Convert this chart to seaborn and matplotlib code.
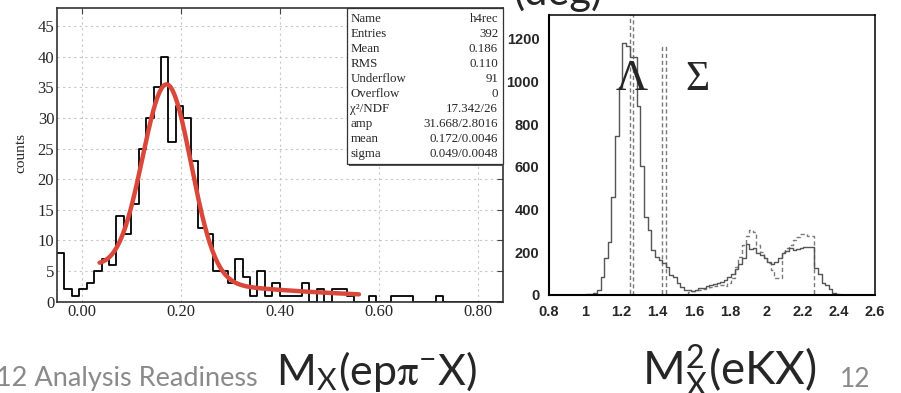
import numpy as np
import pandas as pd
import matplotlib
matplotlib.use("Agg")
import matplotlib.pyplot as plt
import seaborn as sns
from matplotlib.ticker import MultipleLocator
from matplotlib.patches import Rectangle

# ---------------- M_X(e p pi- X) : reconstructed missing mass ----------------
mx_bin_start = -0.05
mx_bin_width = 0.015
mx_counts = [8, 2, 1, 2, 3, 5, 7, 6, 14, 11,
             16, 25, 30, 35, 40, 26, 32, 30, 23, 12,
             11, 5, 5, 3, 7, 4, 1, 5, 1, 3,
             1, 1, 1, 3, 0, 2, 0, 2, 2, 1,
             0, 0, 1, 0, 0, 1, 1, 1, 0, 0,
             0, 1, 0, 0, 0, 0, 0, 0, 0, 0]

# fit: gaussian (amp, mean, sigma) on top of an exponential background
fit_amp, fit_mean, fit_sigma = 31.668, 0.172, 0.049
bkg_const, bkg_slope = 1.847, -2.97
fit_lo, fit_hi = 0.036, 0.56

stat_names = ["Name", "Entries", "Mean", "RMS", "Underflow", "Overflow",
              "χ²/NDF", "amp", "mean", "sigma"]
stat_values = ["h4rec", "392", "0.186", "0.110", "91", "0",
               "17.342/26", "31.668/2.8016", "0.172/0.0046", "0.049/0.0048"]

mx_xticks = [0.0, 0.2, 0.4, 0.6, 0.8]
mx_yticks = [0, 5, 10, 15, 20, 25, 30, 35, 40, 45]

# ---------------- M^2_X(eKX) : data (solid) and simulation (dashed) ----------
mm2_bin_start = 0.985
mm2_bin_width = 0.02
mm2_data = [2, 3, 5, 8, 23, 83, 175, 247, 460, 745,
            973, 1182, 1165, 1117, 1117, 886, 606, 367, 305, 211,
            177, 164, 148, 133, 94, 83, 55, 39, 23, 22,
            20, 25, 31, 31, 40, 47, 52, 58, 62, 70,
            83, 100, 120, 145, 172, 237, 215, 219, 195, 187,
            172, 156, 145, 156, 172, 195, 205, 219, 211, 215,
            219, 223, 226, 226, 125, 98, 55, 47, 27, 11,
            3, 0]
mm2_sim = [0, 0, 0, 0, 0, 0, 0, 0, 0, 0,
           0, 0, 0, 5000, 0, 0, 0, 0, 0, 0,
           0, 0, 1163, 0, 0, 0, 0, 0, 0, 15,
           18, 22, 25, 28, 33, 38, 42, 45, 48, 40,
           55, 80, 130, 180, 235, 276, 305, 297, 234, 200,
           180, 148, 117, 78, 78, 203, 220, 234, 258, 270,
           284, 284, 276, 276, 0, 0, 0, 0, 0, 0,
           0, 0]

mm2_xticks = [0.8, 1.0, 1.2, 1.4, 1.6, 1.8, 2.0, 2.2, 2.4, 2.6]
mm2_yticks = [0, 200, 400, 600, 800, 1000, 1200]

# ---------------------------------------------------------------------------
sns.set_style("white")
plt.rcParams["font.family"] = ["Liberation Serif", "DejaVu Serif"]

W, H = 901, 393
fig = plt.figure(figsize=(W / 100, H / 100), dpi=100)
fig.patch.set_facecolor("white")

# ---------- left panel ----------
ax1 = fig.add_axes([57 / W, 1 - 301.7 / H, 445.5 / W, 293.4 / H])
mx_edges = mx_bin_start + mx_bin_width * np.arange(len(mx_counts) + 1)
mx_df = pd.DataFrame({"mx": mx_edges[:-1] + mx_bin_width / 2, "n": mx_counts})
sns.histplot(data=mx_df, x="mx", weights="n", bins=list(mx_edges),
             element="step", fill=False, color="black", linewidth=1.3, ax=ax1)

xf = np.linspace(fit_lo, fit_hi, 300)
yf = (fit_amp * np.exp(-0.5 * ((xf - fit_mean) / fit_sigma) ** 2)
      + np.exp(bkg_const + bkg_slope * xf))
sns.lineplot(x=xf, y=yf, color="#d9483b", linewidth=3.2, ax=ax1, zorder=4)

ax1.set_xlim(-0.05, 0.85)
ax1.set_ylim(0, 47.9)
ax1.set_xticks(mx_xticks, [f"{t:.2f}" for t in mx_xticks], fontsize=12)
ax1.set_yticks(mx_yticks, [str(t) for t in mx_yticks], fontsize=12)
ax1.tick_params(direction="in", length=4, width=0.8, top=True, right=True,
                pad=2, color="#444444")
ax1.tick_params(axis="x", pad=1.5)
ax1.set_xlabel("")
ax1.set_ylabel("")
ax1.grid(True, linestyle=(0, (2, 3)), color="#c6c6c6", linewidth=0.8)
ax1.set_axisbelow(True)
for s in ax1.spines.values():
    s.set_color("#333333")
    s.set_linewidth(1.2)

# statistics box
bx0 = (347.3 - 57) / 445.5
by0 = (301.7 - 164.3) / 293.4
ax1.add_patch(Rectangle((bx0 + 0.003, by0 - 0.006), 1 - bx0, 1 - by0,
                        transform=ax1.transAxes, facecolor="#555555",
                        edgecolor="none", zorder=5, clip_on=False))
ax1.add_patch(Rectangle((bx0, by0), 1 - bx0, 1 - by0, transform=ax1.transAxes,
                        facecolor="white", edgecolor="#333333", linewidth=0.9,
                        zorder=6, clip_on=False))
for i, (nm, val) in enumerate(zip(stat_names, stat_values)):
    yy = (301.7 - (19.5 + 14.95 * i)) / 293.4
    ax1.text((350.5 - 57) / 445.5, yy, nm, transform=ax1.transAxes,
             ha="left", va="center", fontsize=9.3, zorder=7)
    ax1.text((498 - 57) / 445.5, yy, val, transform=ax1.transAxes,
             ha="right", va="center", fontsize=9.3, zorder=7)

fig.text(21 / W, 1 - 153 / H, "counts", rotation=90, ha="center", va="center",
         fontsize=11)

# ---------- right panel ----------
ax2 = fig.add_axes([549 / W, 1 - 295 / H, 326 / W, 280 / H])
mm2_edges = mm2_bin_start + mm2_bin_width * np.arange(len(mm2_data) + 1)
mm2_df = pd.DataFrame({"m2": mm2_edges[:-1] + mm2_bin_width / 2,
                       "data": mm2_data, "sim": mm2_sim})
sns.histplot(data=mm2_df, x="m2", weights="sim", bins=list(mm2_edges),
             element="step", fill=False, color="#7a7a7a", linewidth=1.0,
             linestyle=(0, (3, 2)), ax=ax2)
sns.histplot(data=mm2_df, x="m2", weights="data", bins=list(mm2_edges),
             element="step", fill=False, color="#555555", linewidth=1.0, ax=ax2)

ax2.set_xlim(0.8, 2.6)
ax2.set_ylim(0, 1312)
bold_sans = dict(fontfamily="Liberation Sans", fontweight="bold", fontsize=10.5)
ax2.set_xticks(mm2_xticks, [f"{t:g}" for t in mm2_xticks], **bold_sans)
ax2.set_yticks(mm2_yticks, [str(t) for t in mm2_yticks], **bold_sans)
ax2.xaxis.set_minor_locator(MultipleLocator(0.05))
ax2.yaxis.set_minor_locator(MultipleLocator(50))
ax2.tick_params(which="major", direction="in", length=8, width=0.9,
                top=False, right=False, color="#555555")
ax2.tick_params(which="minor", direction="in", length=4, width=0.8,
                top=False, right=False, color="#555555")
ax2.tick_params(axis="x", which="major", pad=7.5)
ax2.tick_params(axis="y", which="major", pad=7)
ax2.set_xlabel("")
ax2.set_ylabel("")
for s in ax2.spines.values():
    s.set_color("black")
    s.set_linewidth(1.1)
ax2.spines["left"].set_linewidth(1.5)
ax2.spines["bottom"].set_linewidth(1.5)

ax2.text(1.258, 960, "Λ", ha="center", va="baseline", fontsize=32,
         fontfamily="Liberation Serif")
ax2.text(1.62, 960, "Σ", ha="center", va="baseline", fontsize=30,
         fontfamily="Liberation Serif")

# ---------- slide text ----------
fig.text(513 / W, 1 - 5 / H, "(deg)", fontfamily="Lato", fontsize=30,
         ha="left", va="baseline")
fig.text(-4 / W, 1 - 386 / H, "12 Analysis Readiness", fontfamily="Lato",
         fontsize=19.5, color="#8a8a8a", ha="left", va="baseline")
fig.text(276 / W, 1 - 385 / H,
         r"M$_{\mathregular{X}}$(ep$\mathrm{\pi}^{\mathregular{-}}$X)",
         fontfamily="Lato", fontsize=31, math_fontfamily="stix",
         ha="left", va="baseline")
fig.text(642 / W, 1 - 385 / H,
         r"M$^{\mathregular{2}}_{\mathregular{X}}$(eKX)",
         fontfamily="Lato", fontsize=33, math_fontfamily="stix",
         ha="left", va="baseline")
fig.text(840 / W, 1 - 387 / H, "12", fontfamily="Lato", fontsize=19,
         color="#8a8a8a", ha="left", va="baseline")

fig.savefig("out.png", dpi=100, facecolor="white")
